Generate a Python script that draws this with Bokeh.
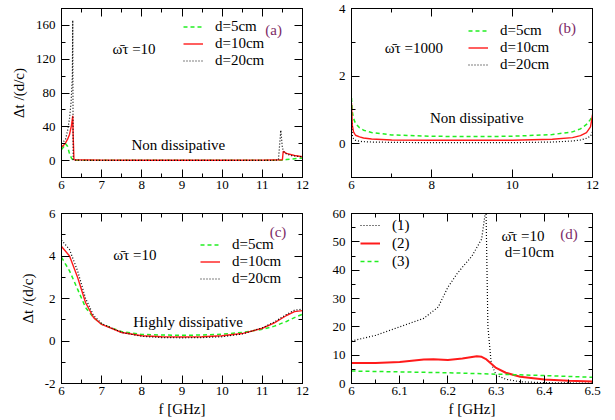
from bokeh.plotting import figure
from bokeh.models import (Range1d, LinearAxis, SingleIntervalTicker, CustomJSTickFormatter,
                          Legend, LegendItem, Label)
from bokeh.layouts import column, row
from bokeh.embed import file_html
from bokeh.resources import INLINE

FONT = "Liberation Serif"
GREEN = "#22ee22"
RED = "#ff1a1a"
BLACK = "#000000"
PURPLE = "#7d2a66"
OMEGA = "\u03c9\u0304\u03c4 ="

# ---------------- data ----------------
# panel (a): omega*tau = 10, non dissipative
a_x5 = [6.0, 6.05, 6.1, 6.15, 6.2, 6.25, 6.28, 6.3, 7, 8, 9, 10, 11, 11.5, 11.6, 11.8, 12]
a_y5 = [13, 16, 20, 17, 8, 3, 1, 0.5, 0.3, 0.3, 0.3, 0.3, 0.3, 0.5, 1.2, 2.2, 3]
a_x10 = [6.0, 6.05, 6.1, 6.15, 6.2, 6.25, 6.28, 6.29, 6.31, 7, 8, 9, 10, 11, 11.5, 11.52, 11.6, 11.8, 12]
a_y10 = [16, 18, 21, 25, 31, 42, 53, 30, 1.0, 0.6, 0.5, 0.5, 0.5, 0.6, 1, 11, 8.5, 6, 4.5]
a_x20 = [6.0, 6.1, 6.15, 6.2, 6.24, 6.27, 6.28, 6.29, 6.3, 7, 8, 9, 10, 11, 11.4, 11.46, 11.5, 11.55, 11.7, 12]
a_y20 = [20, 25, 35, 50, 70, 100, 166, 1, 0.5, 0.2, 0.2, 0.2, 0.2, 0.2, 0.5, 36, 15, 9, 6, 4.5]

# panel (b): omega*tau = 1000, non dissipative
b_x = [6.0, 6.02, 6.05, 6.1, 6.2, 6.3, 6.5, 7, 8, 9, 10, 11, 11.5, 11.7, 11.85, 11.95, 12]
b_y5 = [1.35, 0.95, 0.75, 0.6, 0.47, 0.4, 0.33, 0.26, 0.22, 0.21, 0.22, 0.27, 0.35, 0.44, 0.57, 0.72, 0.85]
b_y10 = [1.2, 0.55, 0.35, 0.25, 0.2, 0.17, 0.14, 0.11, 0.1, 0.1, 0.1, 0.13, 0.18, 0.24, 0.33, 0.5, 0.85]
b_y20 = [0.7, 0.25, 0.15, 0.1, 0.07, 0.06, 0.05, 0.04, 0.03, 0.03, 0.03, 0.05, 0.08, 0.11, 0.16, 0.22, 0.35]

# panel (c): omega*tau = 10, highly dissipative
c_x = [6.0, 6.2, 6.4, 6.6, 6.8, 7.0, 7.5, 8.0, 8.5, 9.0, 9.5, 10.0, 10.5, 11.0, 11.3, 11.6, 11.8, 12.0]
c_y5 = [3.94, 3.3, 2.44, 1.57, 1.1, 0.79, 0.44, 0.31, 0.28, 0.27, 0.28, 0.32, 0.4, 0.55, 0.7, 0.92, 1.1, 1.26]
c_y10 = [4.45, 4.0, 3.0, 1.8, 1.1, 0.78, 0.4, 0.25, 0.2, 0.19, 0.2, 0.25, 0.35, 0.6, 0.85, 1.2, 1.38, 1.43]
c_y20 = [4.75, 4.3, 3.3, 2.0, 1.2, 0.82, 0.4, 0.22, 0.16, 0.15, 0.16, 0.2, 0.33, 0.62, 0.9, 1.25, 1.45, 1.5]

# panel (d): omega*tau = 10, d = 10cm, zoom 6-6.5 GHz
d_x1 = [6.0, 6.05, 6.1, 6.15, 6.18, 6.2, 6.22, 6.25, 6.27, 6.279, 6.283, 6.29, 6.3, 6.32, 6.35, 6.4, 6.5]
d_y1 = [15, 17, 20, 23, 27, 34, 39, 45, 51, 62, 20, 7, 3, 1.5, 0.6, 0.3, 0.1]
d_x2 = [6.0, 6.05, 6.1, 6.15, 6.17, 6.2, 6.23, 6.26, 6.27, 6.28, 6.3, 6.32, 6.35, 6.4, 6.45, 6.5]
d_y2 = [7.2, 7.2, 7.6, 8.5, 8.6, 8.3, 8.8, 9.6, 9.4, 8.5, 5.5, 3.8, 2.4, 1.4, 1.0, 0.7]
d_x3 = [6.0, 6.1, 6.2, 6.3, 6.4, 6.5]
d_y3 = [4.4, 4.1, 3.8, 3.3, 2.8, 2.2]

series_labels = ["d=5cm", "d=10cm", "d=20cm"]
d_labels = ["(1)", "(2)", "(3)"]
XLABEL = "f [GHz]"
YLABEL = "\u0394t /(d/c)"

FMT = "return String(Math.round(tick*1000)/1000);"
BLANK = "return '';"


def make_fig(w, h, xr, yr, borders, xint, yint, xlabel=None, ylabel=None):
    l, r, t, b = borders
    p = figure(width=w, height=h, x_range=Range1d(*xr), y_range=Range1d(*yr),
               output_backend="svg", toolbar_location=None,
               min_border_left=l, min_border_right=r, min_border_top=t, min_border_bottom=b,
               x_axis_location=None, y_axis_location=None)
    p.outline_line_color = "black"
    p.outline_line_width = 1
    p.xgrid.visible = False
    p.ygrid.visible = False
    p.background_fill_color = "white"
    p.border_fill_color = "white"
    for side, interval in (("below", xint), ("above", xint), ("left", yint), ("right", yint)):
        mirror = side in ("above", "right")
        ax = LinearAxis(ticker=SingleIntervalTicker(interval=interval, num_minor_ticks=2),
                        formatter=CustomJSTickFormatter(code=BLANK if mirror else FMT))
        ax.axis_line_color = "black"
        ax.major_tick_in = 8
        ax.major_tick_out = 0
        ax.minor_tick_in = 4
        ax.minor_tick_out = 0
        ax.major_tick_line_color = "black"
        ax.minor_tick_line_color = "black"
        ax.major_label_text_font = FONT
        ax.major_label_text_font_size = "13px"
        ax.major_label_text_color = "black"
        ax.axis_label_text_font = FONT
        ax.axis_label_text_font_size = "15px"
        ax.axis_label_text_font_style = "normal"
        ax.axis_label_text_color = "black"
        if mirror:
            ax.major_label_standoff = 0
        elif side == "below":
            ax.major_label_standoff = 3
            if xlabel:
                ax.axis_label = xlabel
                ax.axis_label_standoff = 3
        else:
            ax.major_label_standoff = 6
            if ylabel:
                ax.axis_label = ylabel
                ax.axis_label_standoff = 6
        p.add_layout(ax, side)
    return p


def add_legend(p, renderers, labels, loc, gh=17):
    leg = Legend(items=[LegendItem(label=lb, renderers=[r]) for lb, r in zip(labels, renderers)],
                 location=loc)
    leg.background_fill_alpha = 0
    leg.border_line_alpha = 0
    leg.padding = 0
    leg.margin = 0
    leg.spacing = 0
    leg.glyph_width = 20
    leg.glyph_height = gh
    leg.label_height = gh
    leg.label_standoff = 12
    leg.label_text_font = FONT
    leg.label_text_font_size = "15px"
    leg.label_text_color = "black"
    p.add_layout(leg)


def add_text(p, x, y, text, align="left", color="black"):
    p.add_layout(Label(x=x, y=y, text=text, text_font=FONT, text_font_size="15px",
                       text_align=align, text_baseline="middle", text_color=color))


def three_lines(p, xs, ys, widths=(1.5, 1.4, 1.2)):
    r5 = p.line(xs[0], ys[0], line_color=GREEN, line_width=widths[0], line_dash="4 3")
    r10 = p.line(xs[1], ys[1], line_color=RED, line_width=widths[1])
    r20 = p.line(xs[2], ys[2], line_color=BLACK, line_width=widths[2], line_dash="1 2")
    return [r5, r10, r20]


# panel (a)
pa = make_fig(310, 200, (6, 12), (-20, 180), (61, 8, 8, 23), 1, 40, ylabel=YLABEL)
ra = three_lines(pa, [a_x5, a_x10, a_x20], [a_y5, a_y10, a_y20])
add_legend(pa, ra, series_labels, (122, 108))
add_text(pa, 11.28, 155, "(a)", "center", PURPLE)
add_text(pa, 7.27, 131.5, OMEGA + "10")
add_text(pa, 8.91, 18, "Non dissipative", "center")

# panel (b)
pb = make_fig(305, 200, (6, 12), (-1, 4), (41, 23, 8, 23), 2, 2)
rb = three_lines(pb, [b_x, b_x, b_x], [b_y5, b_y10, b_y20])
add_legend(pb, rb, series_labels, (117, 104))
add_text(pb, 11.37, 3.43, "(b)", "center", PURPLE)
add_text(pb, 6.83, 2.84, OMEGA + "1000")
add_text(pb, 9.12, 0.76, "Non dissipative", "center")

# panel (c)
pc = make_fig(310, 220, (6, 12), (-2, 6), (61, 8, 13, 37), 1, 2, xlabel=XLABEL, ylabel=YLABEL)
rc = three_lines(pc, [c_x, c_x, c_x], [c_y5, c_y10, c_y20])
add_legend(pc, rc, series_labels, (139, 96))
add_text(pc, 11.39, 5.12, "(c)", "center", PURPLE)
add_text(pc, 7.29, 4.03, OMEGA + "10")
add_text(pc, 9.15, 0.91, "Highly dissipative", "center")

# panel (d)
pd_ = make_fig(305, 220, (6, 6.5), (0, 60), (41, 23, 13, 37), 0.1, 10, xlabel=XLABEL)
r1 = pd_.line(d_x1, d_y1, line_color=BLACK, line_width=1.2, line_dash="1 2")
r2 = pd_.line(d_x2, d_y2, line_color=RED, line_width=2)
r3 = pd_.line(d_x3, d_y3, line_color=GREEN, line_width=1.5, line_dash="4 3")
add_legend(pd_, [r1, r2, r3], d_labels, (9, 113), gh=18)
add_text(pd_, 6.451, 52.7, "(d)", "center", PURPLE)
add_text(pd_, 6.311, 52.0, OMEGA + "10")
add_text(pd_, 6.318, 46.3, "d=10cm")

layout = column(row(pa, pb, spacing=0), row(pc, pd_, spacing=0), spacing=0)
open("out.html", "w").write(file_html(layout, INLINE))
